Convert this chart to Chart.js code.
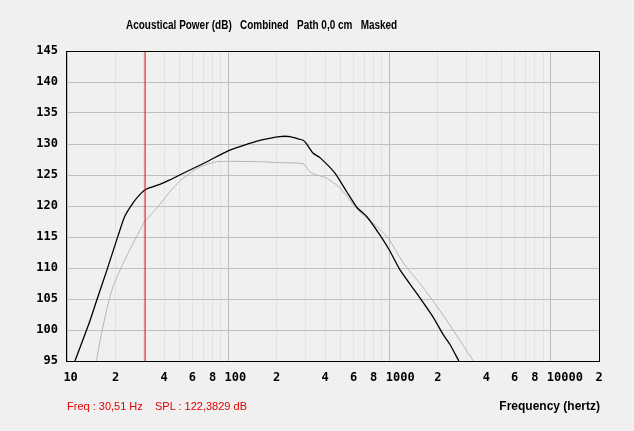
<!DOCTYPE html>
<html>
<head>
<meta charset="utf-8">
<script src="https://cdn.jsdelivr.net/npm/chart.js@4/dist/chart.umd.min.js"></script>
<style>
    body { margin: 0; background: #f0f0f0; }
    #wrap { position: relative; width: 634px; height: 431px; }
    .txt { position: absolute; white-space: pre; font-family: "Liberation Sans", Arial, sans-serif; font-size: 12px; line-height: 14px; }
    #title { left: 126px; top: 18px; font-weight: bold; color: #000; transform: scaleX(0.83); transform-origin: left center; }
    #cursor { left: 67px; top: 399px; font-size: 11px; color: #e00000; }
    #xtitle { right: 34px; top: 399px; font-weight: bold; color: #000; }
</style>
</head>
<body>
<div id="wrap">
    <canvas id="spl" width="634" height="431"></canvas>
    <div class="txt" id="title">Acoustical Power (dB)   Combined   Path 0,0 cm   Masked</div>
    <div class="txt" id="cursor">Freq : 30,51 Hz    SPL : 122,3829 dB</div>
    <div class="txt" id="xtitle">Frequency (hertz)</div>
</div>
<script>
// values
const combinedFreq = [11.2, 13.8, 15.2, 17.6, 20.8, 22.8, 25.7, 28.2, 31, 37.7, 43.5, 50, 73.3, 100, 136, 157, 209, 242, 266, 292, 305, 337, 371, 460, 544, 628, 724, 875, 1000, 1165, 1480, 1877, 2165, 2375, 2700];
const combinedSpl  = [95, 101.3, 104.6, 109.5, 115.3, 118.3, 120.5, 121.8, 122.7, 123.5, 124.2, 125.0, 127.1, 128.9, 130.1, 130.6, 131.2, 131.2, 130.9, 130.6, 130.1, 128.5, 127.8, 125.3, 122.3, 119.8, 118.3, 115.3, 112.9, 109.7, 105.9, 102.0, 99.2, 97.7, 95];
const maskedFreq = [15.2, 16.4, 17.6, 19.3, 21.8, 24.5, 27, 30.4, 35.9, 43.5, 50, 57.9, 66.7, 84.6, 100, 157, 200, 292, 322, 354, 408, 494, 598, 690, 835, 986, 1222, 1550, 1877, 2375, 3320];
const maskedSpl  = [95, 99.5, 103.2, 107.0, 110.2, 112.9, 115.0, 117.5, 119.6, 122.3, 124.0, 125.3, 126.3, 127.15, 127.2, 127.15, 127.0, 126.8, 125.5, 125.0, 124.5, 122.9, 120.2, 118.5, 116.7, 114.8, 110.8, 107.5, 104.6, 100.8, 95];
const cursorFreq = 30.51;

const xTickValues = [10, 20, 30, 40, 50, 60, 70, 80, 90, 100, 200, 300, 400, 500, 600, 700, 800, 900, 1000, 2000, 3000, 4000, 5000, 6000, 7000, 8000, 9000, 10000, 20000];
const xTickLabels = ['10', '2', '', '4', '', '6', '', '8', '', '100', '2', '', '4', '', '6', '', '8', '', '1000', '2', '', '4', '', '6', '', '8', '', '10000', '2'];
const yMin = 95, yMax = 145, yStep = 5;

function toPoints(xs, ys) {
    return xs.map((x, i) => ({ x: x, y: ys[i] }));
}

const isDecade = v => Math.abs(Math.log10(v) - Math.round(Math.log10(v))) < 1e-9;

// frame around plot area
const frame = {
    id: 'frame',
    afterDatasetsDraw(chart) {
        const a = chart.chartArea;
        const c = chart.ctx;
        c.save();
        c.strokeStyle = '#000';
        c.lineWidth = 1;
        c.strokeRect(Math.round(a.left) - 0.5, Math.round(a.top) + 0.5, Math.round(a.right - a.left) + 1, Math.round(a.bottom - a.top));
        c.restore();
    }
};

new Chart(document.getElementById('spl'), {
    type: 'line',
    data: {
        datasets: [
            {
                label: 'Cursor',
                data: [{ x: cursorFreq, y: yMin }, { x: cursorFreq, y: yMax }],
                borderColor: '#e00000',
                borderWidth: 1,
                pointRadius: 0,
                order: 0
            },
            {
                label: 'Combined',
                data: toPoints(combinedFreq, combinedSpl),
                borderColor: '#000',
                borderWidth: 1.3,
                pointRadius: 0,
                tension: 0.2,
                order: 1
            },
            {
                label: 'Masked',
                data: toPoints(maskedFreq, maskedSpl),
                borderColor: '#b4b4b4',
                borderWidth: 1,
                pointRadius: 0,
                tension: 0.2,
                order: 2
            }
        ]
    },
    options: {
        responsive: false,
        animation: false,
        layout: { padding: { top: 51, right: 35, left: 0, bottom: 0 } },
        plugins: {
            legend: { display: false },
            tooltip: { enabled: false }
        },
        scales: {
            x: {
                type: 'logarithmic',
                min: 10,
                max: 20000,
                afterBuildTicks: scale => { scale.ticks = xTickValues.map(v => ({ value: v })); },
                afterFit: scale => { scale.height = 70; },
                border: { display: false },
                grid: {
                    drawTicks: false,
                    color: ctx => (ctx.tick && isDecade(ctx.tick.value)) ? '#bcbcbc' : '#e3e3e3'
                },
                ticks: {
                    autoSkip: false,
                    maxRotation: 0,
                    padding: 10,
                    color: '#000',
                    font: { family: '"DejaVu Sans Mono", monospace', size: 12, weight: 'bold' },
                    callback: (value, index) => {
                        const s = xTickLabels[index] || '';
                        // keep the first digit centred on the tick
                        return ' '.repeat(Math.max(0, s.length - 1)) + s;
                    }
                }
            },
            y: {
                min: yMin,
                max: yMax,
                afterFit: scale => { scale.width = 67; },
                border: { display: false },
                grid: { drawTicks: false, color: '#c0c0c0' },
                ticks: {
                    stepSize: yStep,
                    padding: 9,
                    color: '#000',
                    font: { family: '"DejaVu Sans Mono", monospace', size: 12, weight: 'bold' }
                }
            }
        }
    },
    plugins: [frame]
});
</script>
</body>
</html>
